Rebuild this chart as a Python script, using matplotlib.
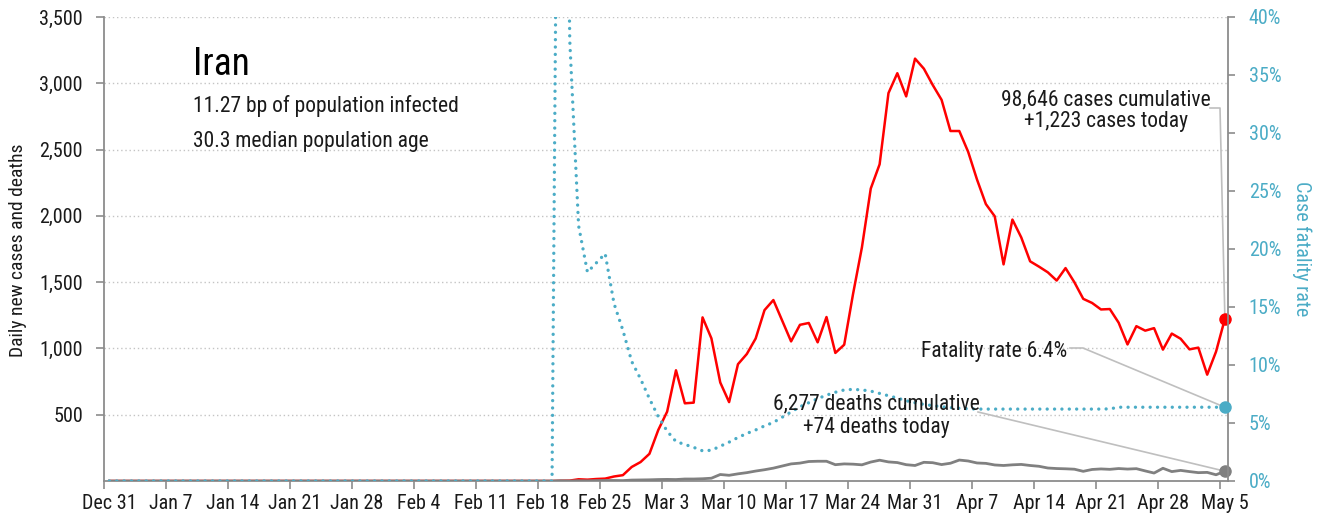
import numpy as np
import pandas as pd
import matplotlib
matplotlib.use('Agg')
import matplotlib.pyplot as plt
from matplotlib.transforms import ScaledTranslation

plt.rcParams['font.family'] = ['Roboto Condensed', 'Archivo Narrow', 'PT Sans Narrow',
                               'IBM Plex Sans Condensed', 'Liberation Sans', 'DejaVu Sans']

# Daily series, Dec 31 2019 .. May 5 2020 (nothing before Feb 20)
dates = pd.date_range('2019-12-31', '2020-05-05', freq='D')
n_zero = 51

cases = [0] * n_zero + [
    2, 3, 13, 10, 15, 18, 34, 44, 106, 143,                    # Feb 20-29
    205, 385, 523, 835, 586, 591, 1234, 1076, 743, 595,        # Mar 1-10
    881, 958, 1075, 1289, 1365, 1209, 1053, 1178, 1192, 1046,  # Mar 11-20
    1237, 966, 1028, 1411, 1762, 2206, 2389, 2926, 3076, 2901, 3186,
    3110, 2987, 2875, 2640, 2640, 2483, 2274, 2089, 1997, 1634,  # Apr 1-10
    1972, 1837, 1657, 1617, 1574, 1512, 1606, 1499, 1374, 1343,  # Apr 11-20
    1294, 1297, 1194, 1030, 1168, 1134, 1153, 991, 1112, 1073,   # Apr 21-30
    993, 1006, 802, 976, 1223]                                   # May 1-5

deaths = [0] * n_zero + [
    2, 0, 2, 1, 3, 4, 4, 3, 7, 8,
    9, 11, 12, 11, 15, 15, 17, 21, 49, 43,
    54, 63, 75, 85, 97, 113, 129, 135, 147, 149,
    149, 123, 129, 127, 122, 143, 157, 144, 139, 123, 117,
    141, 138, 124, 134, 158, 151, 136, 133, 121, 117,
    122, 125, 117, 111, 98, 94, 92, 89, 73, 87,
    91, 88, 94, 90, 93, 76, 60, 96, 71, 80,
    71, 63, 65, 47, 74]

cfr_pct = [0] * n_zero + [
    100, 38, 22, 18, 18.8, 19.6, 15.3, 13.0, 10.3, 8.8,
    7.1, 5.55, 4.3, 3.4, 3.15, 2.9, 2.6, 2.65, 3.0, 3.35,
    3.75, 4.1, 4.4, 4.75, 5.05, 5.5, 5.95, 6.4, 6.75, 7.1,
    7.4, 7.65, 7.85, 7.9, 7.85, 7.75, 7.55, 7.35, 7.15, 6.92, 6.75,
    6.6, 6.5, 6.4, 6.33, 6.27, 6.23, 6.2, 6.2, 6.2, 6.2,
    6.2, 6.2, 6.2, 6.2, 6.2, 6.2, 6.2, 6.2, 6.2, 6.2,
    6.2, 6.22, 6.36, 6.36, 6.36, 6.36, 6.36, 6.36, 6.36, 6.36,
    6.36, 6.36, 6.36, 6.36, 6.36]

country = 'Iran'
info_lines = ['11.27 bp of population infected', '30.3 median population age']
cases_note = ['98,646 cases cumulative', '+1,223 cases today']
deaths_note = ['6,277 deaths cumulative', '+74 deaths today']
cfr_note = 'Fatality rate 6.4%'

tick_dates = dates[::7]
tick_labels = [f'{d:%b} {d.day}' for d in tick_dates]
left_ticks = np.arange(500, 3501, 500)
right_ticks = np.arange(0, 0.401, 0.05)

RED = '#ff0000'
GREY = '#808080'
BLUE = '#4bacc6'
SPINE = '#8c8c8c'
LEADER = '#bfbfbf'
TXT = '#1a1a1a'

x = np.arange(len(dates)) + 0.55  # points sit a bit after the midnight ticks
cfr = np.array(cfr_pct) / 100

W, H = 1323, 520
L, R, T, B = 104.5, 1228, 17, 481
fig = plt.figure(figsize=(W / 100, H / 100), dpi=100)
ax = fig.add_axes([L / W, (H - B) / H, (R - L) / W, (B - T) / H])
ax2 = ax.twinx()

ax.plot(x, cases, color=RED, lw=1.8, zorder=3)
ax.plot(x, deaths, color=GREY, lw=2, zorder=3)
ax2.plot(x, cfr, color=BLUE, lw=2.4, ls=(0, (0.01, 2.2)),
         dash_capstyle='round', zorder=3)

ax.set_xlim(0, 126.9)
ax.set_ylim(0, 3500)
ax2.set_ylim(0, 0.40)

# axes styling
ax.set_xticks(np.arange(0, len(dates), 7))
ax.set_xticklabels(tick_labels)
ax.set_yticks(left_ticks)
ax.set_yticklabels([f'{v:,.0f}' for v in left_ticks])
ax2.set_yticks(right_ticks)
ax2.set_yticklabels([f'{v:.0%}' for v in right_ticks])

ax.yaxis.grid(True, color='#c4c4c4', ls=(0, (1, 2)), lw=1)
ax.set_axisbelow(True)

for a in (ax, ax2):
    a.spines['top'].set_visible(False)
ax.spines['right'].set_visible(False)
ax2.spines['left'].set_visible(False)
ax2.spines['bottom'].set_visible(False)
for s in (ax.spines['left'], ax.spines['bottom'], ax2.spines['right']):
    s.set_color(SPINE)
    s.set_linewidth(1.3)

ax.tick_params(axis='x', length=5.5, width=1.2, color=SPINE, pad=4,
               labelsize=14.5, labelcolor=TXT)
ax.tick_params(axis='y', length=5.5, width=1.2, color=SPINE, pad=10,
               labelsize=14.5, labelcolor=TXT)
ax2.tick_params(axis='y', length=5, width=1.2, color=SPINE, pad=10,
                labelsize=14.5, labelcolor=BLUE)
shift = ScaledTranslation(4.5 / 100, 0, fig.dpi_scale_trans)
for lab in ax.get_xticklabels():
    lab.set_transform(lab.get_transform() + shift)

ax.text(-0.077, 0.498, 'Daily new cases and deaths', rotation=90,
        ha='center', va='center', fontsize=14, color=TXT, transform=ax.transAxes)
ax.text(1.066, 0.5, 'Case fatality rate', rotation=270,
        ha='center', va='center', fontsize=14.5, color=BLUE, transform=ax.transAxes)


def fx(px):
    return (px - L) / (R - L)


def fy(py):
    return (B - py) / (B - T)


# title block
ax.text(fx(193), fy(75), country, fontsize=27, color='black',
        ha='left', va='baseline', transform=ax.transAxes)
ax.text(fx(193), fy(111.7), info_lines[0], fontsize=15.5, color=TXT,
        ha='left', va='baseline', transform=ax.transAxes)
ax.text(fx(193), fy(146.7), info_lines[1], fontsize=15.5, color=TXT,
        ha='left', va='baseline', transform=ax.transAxes)

# notes
for line, py in zip(cases_note, (105, 126.7)):
    ax2.text(fx(1106), fy(py), line, fontsize=15.5, color=TXT, ha='center',
             va='baseline', transform=ax.transAxes, zorder=6)
for line, py in zip(deaths_note, (409.3, 432.7)):
    ax2.text(fx(876), fy(py), line, fontsize=15.5, color=TXT, ha='center',
             va='baseline', transform=ax.transAxes, zorder=6)
ax2.text(fx(1067), fy(356.7), cfr_note, fontsize=15.5, color=TXT, ha='right',
         va='baseline', transform=ax.transAxes, zorder=6)


# leader lines, drawn in axes fraction from the note to the last point
def to_axes(a, xv, yv):
    return ax.transAxes.inverted().transform(a.transData.transform((xv, yv)))


end_case = to_axes(ax, x[-1], cases[-1])
end_death = to_axes(ax, x[-1], deaths[-1])
end_cfr = to_axes(ax2, x[-1], cfr[-1])

ax.plot([fx(1210), fx(1220), end_case[0]], [fy(108), fy(108), end_case[1]],
        color=LEADER, lw=1.2, transform=ax.transAxes, clip_on=False, zorder=4)
ax.plot([fx(978), end_death[0]], [fy(412), end_death[1]],
        color=LEADER, lw=1.2, transform=ax.transAxes, clip_on=False, zorder=4)
ax.plot([fx(1070), fx(1083), end_cfr[0]], [fy(348), fy(348), end_cfr[1]],
        color=LEADER, lw=1.2, transform=ax.transAxes, clip_on=False, zorder=4)

# end markers
ax.plot(x[-1], cases[-1], 'o', color=RED, ms=8, zorder=5, clip_on=False)
ax.plot(x[-1], deaths[-1], 'o', color=GREY, ms=8, zorder=5, clip_on=False)
ax2.plot(x[-1], cfr[-1], 'o', color=BLUE, ms=8, zorder=5, clip_on=False)

fig.savefig('out.png', dpi=100)
